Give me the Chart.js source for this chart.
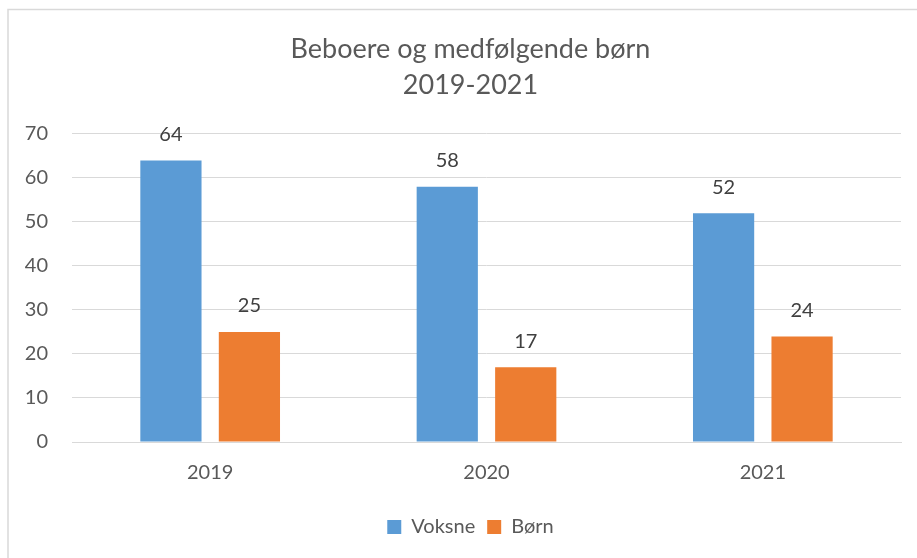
<!DOCTYPE html>
<html>
<head>
<meta charset="utf-8">
<script src="https://cdn.jsdelivr.net/npm/chart.js@4/dist/chart.umd.min.js"></script>
<style>
html,body{margin:0;padding:0;background:#fff;}
#wrap{position:absolute;left:0;top:0;width:917px;height:558px;}
</style>
</head>
<body>
<div id="wrap"><canvas id="c" width="917" height="558"></canvas></div>
<script>
const titleLines = ["Beboere og medfølgende børn", "2019-2021"];
const categories = ["2019", "2020", "2021"];
const seriesNames = ["Voksne", "Børn"];
const voksne = [64, 58, 52];
const born = [25, 17, 24];
const yTicks = [0, 10, 20, 30, 40, 50, 60, 70];

const FONT = "Lato, 'Open Sans', sans-serif";

const borderPlugin = {
  id: 'outerBorder',
  beforeDraw(chart) {
    const ctx = chart.ctx;
    ctx.save();
    ctx.fillStyle = '#fff';
    ctx.fillRect(0, 0, chart.width, chart.height);
    ctx.strokeStyle = '#d9d9d9';
    ctx.lineWidth = 1.5;
    ctx.beginPath();
    ctx.moveTo(8, chart.height);
    ctx.lineTo(8, 9.5);
    ctx.lineTo(chart.width, 9.5);
    ctx.stroke();
    ctx.restore();
  }
};

// Shift title and legend so they are centred like the original (over the full frame)
const shiftPlugin = {
  id: 'shiftBlocks',
  afterLayout(chart) {
    if (chart.titleBlock) chart.titleBlock.left += 40;
    if (chart.legend) chart.legend.left += 40;
  }
};

const labelPlugin = {
  id: 'valueLabels',
  afterDatasetsDraw(chart) {
    const ctx = chart.ctx;
    ctx.save();
    ctx.font = "20px " + FONT;
    ctx.fillStyle = '#404040';
    ctx.textAlign = 'center';
    ctx.textBaseline = 'middle';
    chart.data.datasets.forEach((ds, i) => {
      const meta = chart.getDatasetMeta(i);
      meta.data.forEach((bar, j) => {
        ctx.fillText(String(ds.data[j]), bar.x, bar.y - 26);
      });
    });
    ctx.restore();
  }
};

new Chart(document.getElementById('c'), {
  type: 'bar',
  data: {
    labels: categories,
    datasets: [
      { label: seriesNames[0], data: voksne, backgroundColor: '#5B9BD5', borderWidth: 0 },
      { label: seriesNames[1], data: born, backgroundColor: '#ED7D31', borderWidth: 0 }
    ]
  },
  options: {
    responsive: false,
    animation: false,
    devicePixelRatio: 1,
    layout: { padding: { left: 0, right: 16, top: 0, bottom: 11 } },
    datasets: { bar: { categoryPercentage: 0.568, barPercentage: 0.78 } },
    plugins: {
      title: {
        display: true,
        text: titleLines,
        color: '#595959',
        font: { family: FONT, size: 27, weight: 'normal', lineHeight: 1.333 },
        padding: { top: 31, bottom: 31 }
      },
      legend: {
        position: 'bottom',
        labels: {
          color: '#595959',
          font: { family: FONT, size: 20 },
          boxWidth: 14, boxHeight: 14,
          padding: 12
        }
      },
      tooltip: { enabled: false }
    },
    scales: {
      x: {
        grid: { display: false },
        border: { display: true, color: '#d9d9d9', width: 1 },
        afterFit(scale) { scale.height = 63; },
        ticks: { color: '#595959', font: { family: FONT, size: 20 }, padding: 11 }
      },
      y: {
        min: 0, max: 70,
        afterBuildTicks(scale) { scale.ticks = yTicks.map(v => ({ value: v })); },
        afterFit(scale) { scale.width = 72; },
        grid: { color: '#d9d9d9', lineWidth: 1, drawTicks: false },
        border: { display: false },
        ticks: { color: '#595959', font: { family: FONT, size: 20 }, padding: 24 }
      }
    }
  },
  plugins: [borderPlugin, shiftPlugin, labelPlugin]
});
</script>
</body>
</html>
